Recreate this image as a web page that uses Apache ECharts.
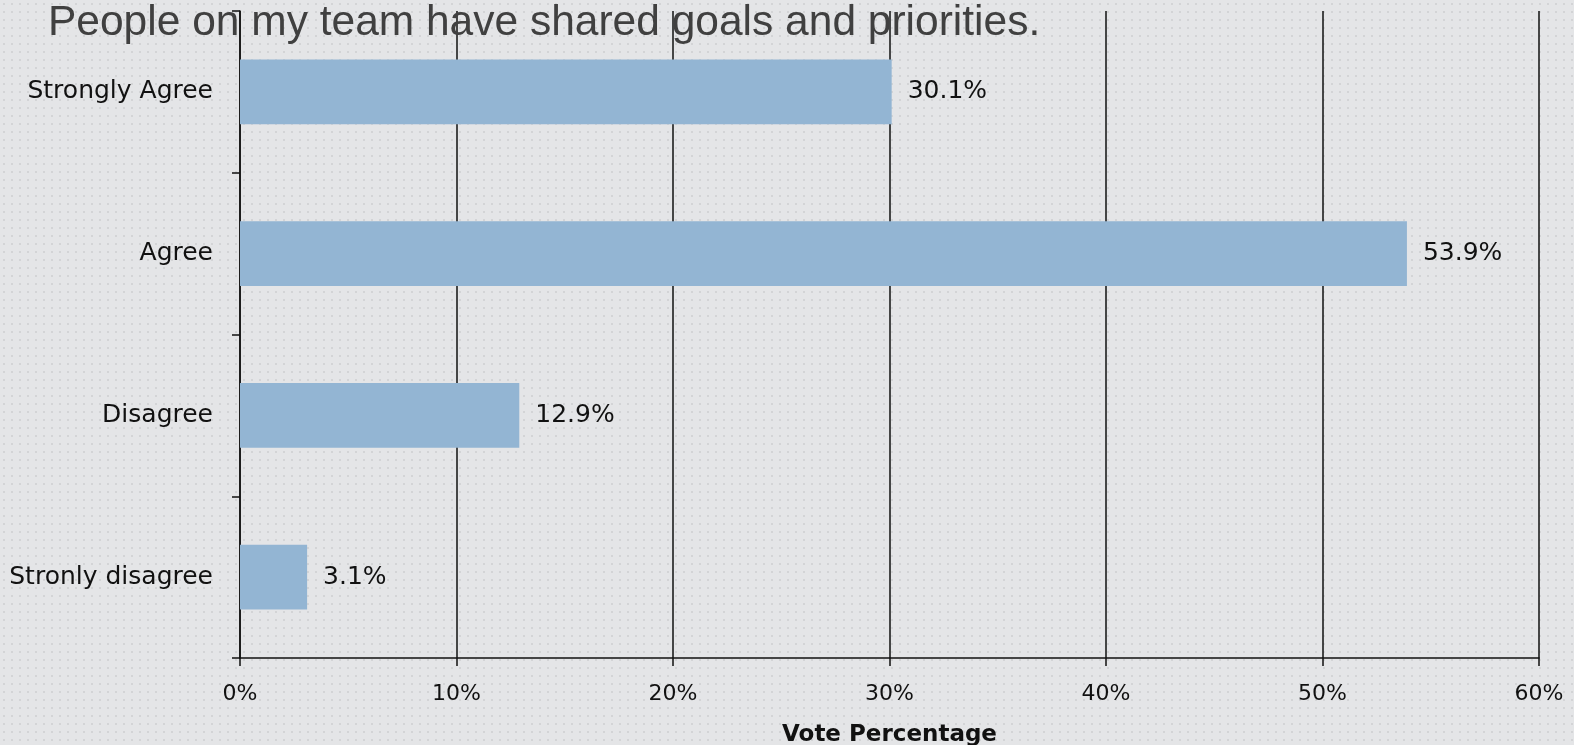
<!DOCTYPE html>
<html><head><meta charset="utf-8">
<script src="https://cdn.jsdelivr.net/npm/echarts@6/dist/echarts.min.js"></script>
<style>html,body{margin:0;padding:0;}#c{width:1574px;height:745px;}</style>
</head><body><div id="c"></div>
<script>
const titleText = "People on my team have shared goals and priorities.";
const categories = ["Strongly Agree", "Agree", "Disagree", "Stronly disagree"];
const values = [30.1, 53.9, 12.9, 3.1];
const axisName = "Vote Percentage";

const pc = document.createElement('canvas');
pc.width = 8; pc.height = 8;
const g = pc.getContext('2d');
g.fillStyle = '#e4e5e7'; g.fillRect(0,0,8,8);
g.fillStyle = '#d3d4d6'; g.fillRect(3,3,2,2);

const chart = echarts.init(document.getElementById('c'));
const font = '"DejaVu Sans", sans-serif';
chart.setOption({
  backgroundColor: {image: pc, repeat: 'repeat'},
  animation: false,
  title: {text: titleText, left: 43, top: -3,
    textStyle: {fontFamily: '"Liberation Sans", Arial, sans-serif', fontSize: 42.5, fontWeight: 'normal', color: '#404040'}},
  grid: {left: 240, right: 35, top: 11, bottom: 87, containLabel: false, outerBoundsMode: 'none'},
  xAxis: {type: 'value', min: 0, max: 60, interval: 10,
    name: axisName, nameLocation: 'middle', nameGap: 66,
    nameTextStyle: {fontFamily: font, fontWeight: 'bold', fontSize: 23, color: '#111'},
    axisLine: {show: true, lineStyle: {color: '#111', width: 1.5}},
    axisTick: {show: true, length: 8, lineStyle: {color: '#111', width: 1.5}},
    axisLabel: {formatter: '{value}%', margin: 25, fontFamily: font, fontSize: 22, color: '#111'},
    splitLine: {show: true, lineStyle: {color: '#111', width: 1.5}}},
  yAxis: {type: 'category', data: categories, inverse: true,
    axisLine: {show: true, lineStyle: {color: '#111', width: 1.5}},
    axisTick: {show: true, length: 8, lineStyle: {color: '#111', width: 1.5}},
    axisLabel: {margin: 27, fontFamily: font, fontSize: 25, color: '#111'}},
  series: [{type: 'bar', data: values, barWidth: '40%',
    itemStyle: {color: '#93b5d3'},
    label: {show: true, position: 'right', distance: 16, formatter: p => p.value.toFixed(1) + '%',
      fontFamily: font, fontSize: 25, color: '#111'}}]
});
</script></body></html>
